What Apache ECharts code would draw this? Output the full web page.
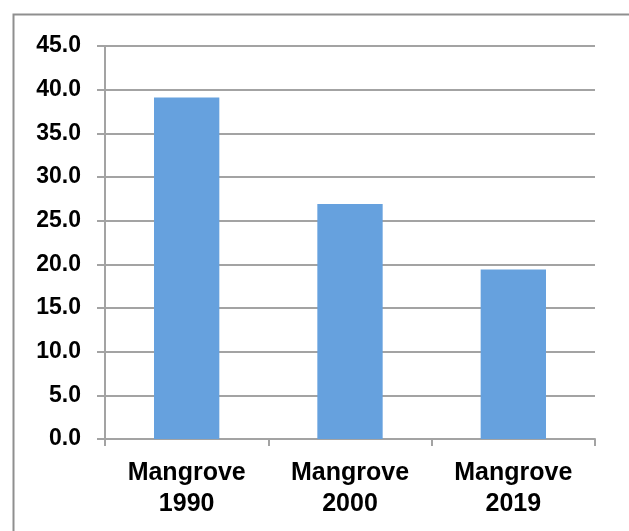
<!DOCTYPE html>
<html>
<head>
<meta charset="utf-8">
<script src="https://cdn.jsdelivr.net/npm/echarts@6/dist/echarts.min.js"></script>
<style>html,body{margin:0;padding:0;background:#fff}#c{width:629px;height:531px}</style>
</head>
<body>
<div id="c"></div>
<script>
var categories = ['Mangrove\n1990', 'Mangrove\n2000', 'Mangrove\n2019'];
var values = [39.1, 26.9, 19.4];
var yTicks = { min: 0, max: 45, interval: 5 };

var chart = echarts.init(document.getElementById('c'), null, { renderer: 'canvas' });
var gray = '#a3a3a3';
chart.setOption({
  animation: false,
  backgroundColor: '#fff',
  graphic: [{
    type: 'rect', left: 11, top: 12, silent: true,
    shape: { width: 640, height: 540 },
    style: { fill: 'none', stroke: '#8f8f8f', lineWidth: 2 }
  }],
  grid: { left: 105, right: 34, top: 46, bottom: 92, containLabel: false },
  xAxis: {
    type: 'category',
    data: categories,
    axisLine: { lineStyle: { color: gray, width: 2 } },
    axisTick: { show: true, alignWithLabel: false, length: 7, lineStyle: { color: gray, width: 2 } },
    axisLabel: { color: '#000', fontFamily: 'Liberation Sans, Arial, sans-serif', fontWeight: 'bold', fontSize: 25, lineHeight: 31, margin: 19 }
  },
  yAxis: {
    type: 'value',
    min: yTicks.min, max: yTicks.max, interval: yTicks.interval,
    axisLine: { show: true, lineStyle: { color: gray, width: 2 } },
    axisTick: { show: true, length: 8, lineStyle: { color: gray, width: 2 } },
    splitLine: { lineStyle: { color: gray, width: 2 } },
    axisLabel: {
      color: '#000', fontFamily: 'Liberation Sans, Arial, sans-serif', fontWeight: 'bold', fontSize: 23, margin: 24,
      padding: [4, 0, 0, 0],
      formatter: function (v) { return v.toFixed(1); }
    }
  },
  series: [{
    type: 'bar',
    data: values,
    barWidth: '40%',
    itemStyle: { color: '#66a1de' }
  }]
});
</script>
</body>
</html>
